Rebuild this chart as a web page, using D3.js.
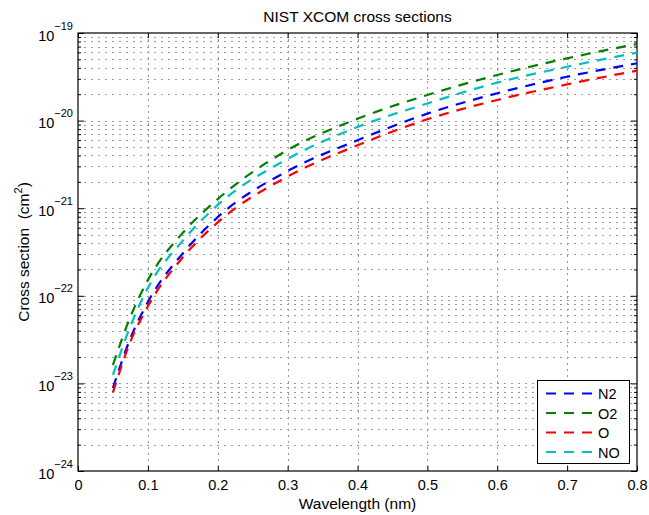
<!DOCTYPE html>
<html>
<head>
<meta charset="utf-8">
<script src="https://cdn.jsdelivr.net/npm/d3@7/dist/d3.min.js"></script>
<style>
  html, body { margin: 0; padding: 0; background: #fff; }
  svg { display: block; font-family: "Liberation Sans", Arial, Helvetica, sans-serif; }
</style>
</head>
<body>
<svg id="chart" width="649" height="515"></svg>
<script>
// Photoabsorption cross sections (cm^2) versus wavelength (nm)
const wavelength = [0.05, 0.075, 0.1, 0.15, 0.2, 0.3, 0.4, 0.5, 0.6, 0.7, 0.8];
const seriesN2 = [8.9e-24, 3.27e-23, 8.5e-23, 3.05e-22, 7.9e-22, 2.66e-21, 5.96e-21, 1.20e-20, 2.05e-20, 3.17e-20, 4.51e-20];
const seriesO2 = [1.62e-23, 5.77e-23, 1.51e-22, 5.25e-22, 1.27e-21, 4.61e-21, 1.05e-20, 1.96e-20, 3.32e-20, 5.14e-20, 7.49e-20];
const seriesO  = [7.9e-24, 2.99e-23, 7.6e-23, 2.75e-22, 6.9e-22, 2.30e-21, 5.22e-21, 1.035e-20, 1.72e-20, 2.59e-20, 3.72e-20];
const seriesNO = [1.25e-23, 4.5e-23, 1.23e-22, 4.26e-22, 1.09e-21, 3.65e-21, 8.45e-21, 1.57e-20, 2.71e-20, 4.12e-20, 5.96e-20];
const seriesNames = ["N2", "O2", "O", "NO"];
const seriesColors = ["#0000ff", "#008000", "#ff0000", "#00bfbf"];

const xTicks = [0, 0.1, 0.2, 0.3, 0.4, 0.5, 0.6, 0.7, 0.8];
const yExponents = [-24, -23, -22, -21, -20, -19];

const titleText = "NIST XCOM cross sections";
const xLabelText = "Wavelength (nm)";

const svg = d3.select("#chart");
const W = 649, H = 515;
const m = { left: 78, right: 637, top: 33, bottom: 471 };

svg.append("rect").attr("width", W).attr("height", H).attr("fill", "#fff");

const x = d3.scaleLinear().domain([0, 0.8]).range([m.left, m.right]);
const y = d3.scaleLog().domain([1e-24, 1e-19]).range([m.bottom, m.top]);

const majorY = yExponents.map(e => Math.pow(10, e));
const minorY = [];
yExponents.slice(0, -1).forEach(e => {
  for (let k = 2; k <= 9; k++) minorY.push(k * Math.pow(10, e));
});

// dotted grid
const grid = svg.append("g");
[...majorY, ...minorY].forEach(v => {
  if (v === 1e-24 || v === 1e-19) return;
  const yy = Math.round(y(v)) + 0.5;
  grid.append("line")
    .attr("x1", m.left).attr("x2", m.right)
    .attr("y1", yy).attr("y2", yy)
    .attr("stroke", "#333").attr("stroke-width", 1)
    .attr("stroke-dasharray", "1,6").attr("stroke-dashoffset", 0.5);
});
xTicks.slice(1, -1).forEach(v => {
  const xx = Math.round(x(v)) + 0.5;
  grid.append("line")
    .attr("x1", xx).attr("x2", xx)
    .attr("y1", m.top).attr("y2", m.bottom)
    .attr("stroke", "#999").attr("stroke-width", 1)
    .attr("stroke-dasharray", "2,4");
});

// axes (ticks pointing inward)
const fmtX = d => d === 0 ? "0" : d3.format(".1f")(d);
const axB = svg.append("g").attr("transform", `translate(0,${m.bottom})`)
  .call(d3.axisBottom(x).tickValues(xTicks).tickSizeInner(-5).tickSizeOuter(0).tickPadding(9).tickFormat(fmtX));
const axT = svg.append("g").attr("transform", `translate(0,${m.top})`)
  .call(d3.axisTop(x).tickValues(xTicks).tickSizeInner(-5).tickSizeOuter(0).tickFormat(""));
const axL = svg.append("g").attr("transform", `translate(${m.left},0)`)
  .call(d3.axisLeft(y).tickValues(majorY).tickSizeInner(-6).tickSizeOuter(0).tickPadding(5).tickFormat(""));
const axLm = svg.append("g").attr("transform", `translate(${m.left},0)`)
  .call(d3.axisLeft(y).tickValues(minorY).tickSizeInner(-3).tickSizeOuter(0).tickFormat(""));
const axR = svg.append("g").attr("transform", `translate(${m.right},0)`)
  .call(d3.axisRight(y).tickValues(majorY).tickSizeInner(-6).tickSizeOuter(0).tickFormat(""));
const axRm = svg.append("g").attr("transform", `translate(${m.right},0)`)
  .call(d3.axisRight(y).tickValues(minorY).tickSizeInner(-3).tickSizeOuter(0).tickFormat(""));

[axB, axT, axL, axLm, axR, axRm].forEach(g => {
  g.select(".domain").remove();
  g.selectAll(".tick line").attr("stroke", "#000").attr("stroke-width", 1);
});
axB.selectAll(".tick text")
  .attr("font-size", 14.5).attr("fill", "#000")
  .attr("font-family", "'Liberation Sans', Arial, Helvetica, sans-serif");

// y tick labels as powers of ten
axL.selectAll(".tick text").each(function(d) {
  const t = d3.select(this)
    .attr("x", -5).attr("dy", null).attr("y", 7)
    .attr("text-anchor", "end").attr("fill", "#000")
    .attr("font-family", "'Liberation Sans', Arial, Helvetica, sans-serif");
  t.text(null);
  t.append("tspan").attr("font-size", 14.5).text("10");
  t.append("tspan").attr("font-size", 11).attr("dy", -11)
    .text("\u2212" + Math.abs(Math.round(Math.log10(d))));
});

// frame
svg.append("rect")
  .attr("x", m.left).attr("y", m.top)
  .attr("width", m.right - m.left).attr("height", m.bottom - m.top)
  .attr("fill", "none").attr("stroke", "#000").attr("stroke-width", 1.2);

// series lines
const allSeries = [seriesN2, seriesO2, seriesO, seriesNO];
const line = d3.line()
  .x((d, i) => x(wavelength[i]))
  .y(d => y(d))
  .curve(d3.curveMonotoneX);
const plot = svg.append("g");
allSeries.forEach((s, k) => {
  plot.append("path")
    .attr("d", line(s))
    .attr("fill", "none")
    .attr("stroke", seriesColors[k])
    .attr("stroke-width", 2.2)
    .attr("stroke-dasharray", "10,8");
});

// legend
const lg = svg.append("g");
lg.append("rect")
  .attr("x", 537.5).attr("y", 380.5).attr("width", 92).attr("height", 83)
  .attr("fill", "#fff").attr("stroke", "#000").attr("stroke-width", 1);
const legendY = [393.5, 413, 432.5, 452];
seriesNames.forEach((name, k) => {
  lg.append("line")
    .attr("x1", 546).attr("x2", 593)
    .attr("y1", legendY[k]).attr("y2", legendY[k])
    .attr("stroke", seriesColors[k]).attr("stroke-width", 2.2)
    .attr("stroke-dasharray", "10,8");
  lg.append("text")
    .attr("x", 598).attr("y", legendY[k] + 5.5)
    .attr("font-size", 14.5).attr("fill", "#000")
    .text(name);
});

// titles
svg.append("text")
  .attr("x", (m.left + m.right) / 2).attr("y", 22)
  .attr("text-anchor", "middle").attr("font-size", 15.5)
  .text(titleText);
svg.append("text")
  .attr("x", (m.left + m.right) / 2).attr("y", 509)
  .attr("text-anchor", "middle").attr("font-size", 15.5)
  .text(xLabelText);
const yl = svg.append("text")
  .attr("transform", `translate(29,${(m.top + m.bottom) / 2}) rotate(-90)`)
  .attr("text-anchor", "middle").attr("font-size", 15.5);
yl.append("tspan").text("Cross section\u00a0\u00a0(cm");
yl.append("tspan").attr("font-size", 11).attr("dy", -7).text("2");
yl.append("tspan").attr("dy", 7).text(")");
</script>
</body>
</html>
